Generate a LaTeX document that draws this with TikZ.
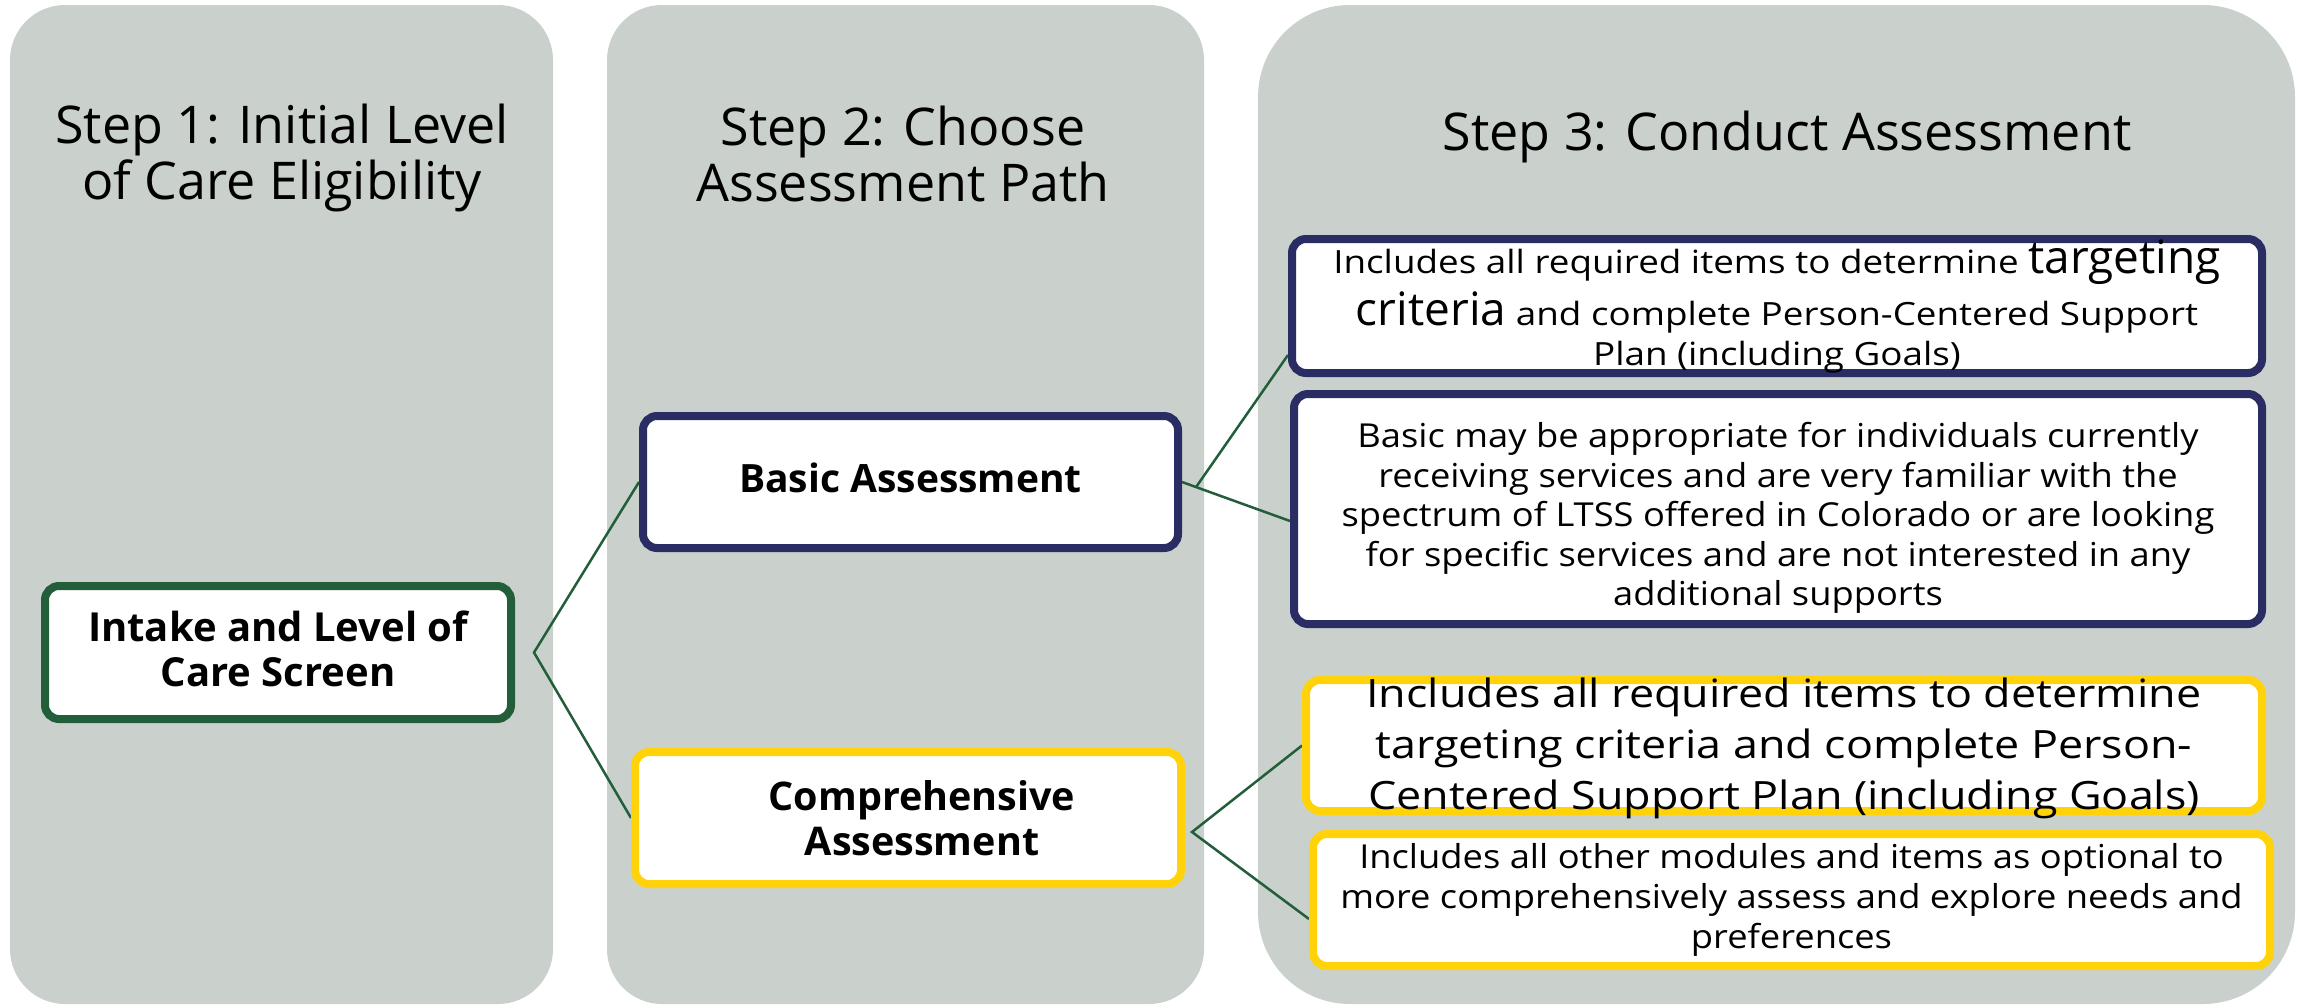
\documentclass[tikz,border=0pt]{standalone}
\usepackage{fontspec}
\setmainfont{Open Sans}
\newfontfamily\bodyfont[FakeStretch=1.15]{Open Sans}
\newfontfamily\bodyfontb[FakeStretch=1.10]{Open Sans}
\usetikzlibrary{calc}
\definecolor{panelgray}{RGB}{202,209,204}
\definecolor{lvgreen}{RGB}{34,94,58}
\definecolor{lvnavy}{RGB}{41,45,100}
\definecolor{lvyellow}{RGB}{255,210,10}
\pgfdeclarelayer{bg}
\pgfdeclarelayer{links}
\pgfsetlayers{bg,links,main}
% width, height, top offset, content
\newcommand\inbox[4]{\parbox[c][#2][c]{#1}{\vspace*{#3}\centering\lineskiplimit=-200pt\relax #4\par}}
\tikzset{
  panel/.style={fill=panelgray},
  title/.style={align=center, font=\fontsize{52}{56}\selectfont, inner sep=0pt},
  bx/.style={draw, line width=8pt, rounded corners=14pt, fill=white, inner sep=0pt},
  gbx/.style={bx, draw=lvgreen},
  nbx/.style={bx, draw=lvnavy},
  ybx/.style={bx, draw=lvyellow},
  conn/.style={draw=lvgreen, line width=2.5pt},
}
\begin{document}
\begin{tikzpicture}[x=1pt, y=-1pt]
\useasboundingbox (0,0) rectangle (2305,1004);
% panels
\begin{pgfonlayer}{bg}
\fill[panel, rounded corners=55pt] (10,5) rectangle (553,1004);
\fill[panel, rounded corners=55pt] (607,5) rectangle (1204,1004);
\fill[panel, rounded corners=92pt] (1258,5) rectangle (2295,1004);
\end{pgfonlayer}
% titles
\node[title] (t1) at (282,158) {Step 1: Initial Level\\of Care Eligibility};
\node[title] (t2) at (903,154) {Step 2: Choose\\Assessment Path};
\node[title, anchor=base] (t3) at (1787,150) {Step 3: Conduct Assessment};
% boxes
\node[gbx] (intake) at (278,652.5) {\inbox{466pt}{133pt}{-8pt}{\fontsize{40}{45}\selectfont\bfseries Intake and Level of\\Care Screen}};
\node[nbx] (basic) at (910.5,482) {\inbox{535pt}{132pt}{-9pt}{\fontsize{39}{45}\selectfont\bfseries Basic Assessment}};
\node[ybx] (comp) at (908,818) {\inbox{546pt}{132pt}{0pt}{\leftskip=28pt plus 1fil\relax\fontsize{39.5}{45}\selectfont\bfseries Comprehensive\\Assessment}};
\node[nbx] (b1) at (1777,306) {\inbox{970pt}{134pt}{0pt}{\bodyfont\fontsize{32}{40}\selectfont Includes all required items to determine {\rmfamily\fontsize{46}{40}\selectfont targeting}\\[12pt]{\rmfamily\fontsize{46}{40}\selectfont criteria} and complete Person-Centered Support\\Plan (including Goals)}};
\node[nbx] (b2) at (1778,509) {\inbox{968pt}{230pt}{18pt}{\bodyfontb\fontsize{33}{39.4}\selectfont Basic may be appropriate for individuals currently\\receiving services and are very familiar with the\\spectrum of LTSS offered in Colorado or are looking\\for specific services and are not interested in any\\additional supports}};
\node[ybx] (y1) at (1784,745.5) {\inbox{956pt}{131pt}{6pt}{\bodyfont\fontsize{39}{51}\selectfont Includes all required items to determine\\targeting criteria and complete Person-\\Centered Support Plan (including Goals)}};
\node[ybx] (y2) at (1791.5,900) {\inbox{957pt}{132pt}{0pt}{\bodyfontb\fontsize{33}{40}\selectfont Includes all other modules and items as optional to\\more comprehensively assess and explore needs and\\preferences}};
% connector points
\coordinate (j0) at ([xshift=19pt]intake.east);
\coordinate (j1) at (basic.east);
\coordinate (b2in) at ([yshift=-12pt]b2.west);
\coordinate (j1b) at ($(j1)!0.13!(b2in)$);
\coordinate (b1in) at ([yshift=-49pt]b1.west);
\coordinate (j2) at ([xshift=7pt,yshift=-14pt]comp.east);
\coordinate (y2in) at ([yshift=-19pt]y2.west);
% connectors
\begin{pgfonlayer}{links}
\draw[conn] (basic.west) -- (j0) -- (comp.west);
\draw[conn] (j1) -- (b2in);
\draw[conn] (j1b) -- (b1in);
\draw[conn] (y1.west) -- (j2) -- (y2in);
\end{pgfonlayer}
\end{tikzpicture}
\end{document}
